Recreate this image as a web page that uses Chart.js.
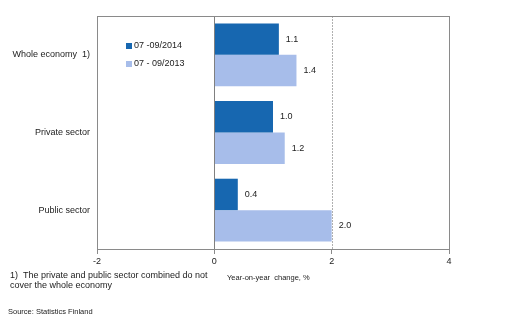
<!DOCTYPE html>
<html>
<head>
<meta charset="utf-8">
<script src="https://cdn.jsdelivr.net/npm/chart.js@4.4.0/dist/chart.umd.min.js"></script>
<style>
  html, body { margin: 0; padding: 0; background: #fff; }
  #wrap { width: 515px; height: 322px; }
</style>
</head>
<body>
<div id="wrap"><canvas id="chart" width="515" height="322"></canvas></div>
<script>
// sectors and year-on-year change, %
const categories = ["Whole economy  1)", "Private sector", "Public sector"];
const series2014 = [1.1, 1.0, 0.4];
const series2013 = [1.4, 1.2, 2.0];
const seriesLabels = ["07 -09/2014", "07 - 09/2013"];
const seriesColors = ["#1767B0", "#A7BDEA"];
const xTicks = [-2, 0, 2, 4];

const FONT = "'Liberation Sans', Arial, sans-serif";
const TEXT = "#222";

// zero line, dotted line at 2, frame, value labels, legend and notes
const decor = {
  id: "decor",
  afterDatasetsDraw(chart) {
    const { ctx, chartArea: a, scales } = chart;
    const x = scales.x;
    ctx.save();

    // dotted line at 2
    let px = Math.round(x.getPixelForValue(2)) + 0.5;
    ctx.strokeStyle = "#b0b0b0";
    ctx.lineWidth = 1;
    ctx.setLineDash([2, 1]);
    ctx.beginPath();
    ctx.moveTo(px, a.top);
    ctx.lineTo(px, a.bottom);
    ctx.stroke();
    ctx.setLineDash([]);

    // zero line
    px = Math.round(x.getPixelForValue(0)) + 0.5;
    ctx.strokeStyle = "#808080";
    ctx.beginPath();
    ctx.moveTo(px, a.top);
    ctx.lineTo(px, a.bottom);
    ctx.stroke();

    // frame
    ctx.strokeStyle = "#8a8a8a";
    ctx.strokeRect(Math.round(a.left) + 0.5, Math.round(a.top) + 0.5,
      Math.round(a.right - a.left), Math.round(a.bottom - a.top));

    // value labels
    ctx.fillStyle = TEXT;
    ctx.font = "9px " + FONT;
    ctx.textBaseline = "middle";
    ctx.textAlign = "left";
    chart.data.datasets.forEach((ds, i) => {
      chart.getDatasetMeta(i).data.forEach((bar, j) => {
        ctx.fillText(ds.data[j].toFixed(1), bar.x + 7, bar.y);
      });
    });

    // legend inside the plot
    const legendY = [46, 64];
    chart.data.datasets.forEach((ds, i) => {
      ctx.fillStyle = ds.backgroundColor;
      ctx.fillRect(126, legendY[i] - 3, 6, 6);
      ctx.fillStyle = TEXT;
      ctx.fillText(ds.label, 134, legendY[i]);
    });

    // axis title and notes
    ctx.font = "7.5px " + FONT;
    ctx.fillText("Year-on-year  change, %", 227, 278);
    ctx.font = "9px " + FONT;
    ctx.fillText("1)  The private and public sector combined do not", 10, 276);
    ctx.fillText("cover the whole economy", 10, 286);
    ctx.font = "7.5px " + FONT;
    ctx.fillText("Source: Statistics Finland", 8, 312);

    ctx.restore();
  }
};

new Chart(document.getElementById("chart"), {
  type: "bar",
  data: {
    labels: categories,
    datasets: [
      {
        label: seriesLabels[0],
        data: series2014,
        backgroundColor: seriesColors[0],
        categoryPercentage: 0.81,
        barPercentage: 1
      },
      {
        label: seriesLabels[1],
        data: series2013,
        backgroundColor: seriesColors[1],
        categoryPercentage: 0.81,
        barPercentage: 1
      }
    ]
  },
  options: {
    indexAxis: "y",
    responsive: false,
    animation: false,
    layout: { padding: { top: 16, right: 66, left: 0, bottom: 0 } },
    plugins: {
      legend: { display: false },
      tooltip: { enabled: false }
    },
    scales: {
      x: {
        min: -2,
        max: 4,
        afterBuildTicks: scale => {
          scale.ticks = xTicks.map(v => ({ value: v }));
        },
        afterFit: scale => { scale.height = 73; },
        grid: {
          drawOnChartArea: false,
          drawTicks: true,
          tickLength: 5,
          color: "#8a8a8a"
        },
        border: { display: true, color: "#8a8a8a" },
        ticks: {
          padding: 2,
          color: TEXT,
          font: { family: FONT, size: 9 },
          callback: v => v
        }
      },
      y: {
        afterFit: scale => { scale.width = 97; },
        grid: { display: false, drawTicks: false },
        border: { display: false },
        ticks: {
          padding: 7,
          color: TEXT,
          font: { family: FONT, size: 9 }
        }
      }
    }
  },
  plugins: [decor]
});
</script>
</body>
</html>
